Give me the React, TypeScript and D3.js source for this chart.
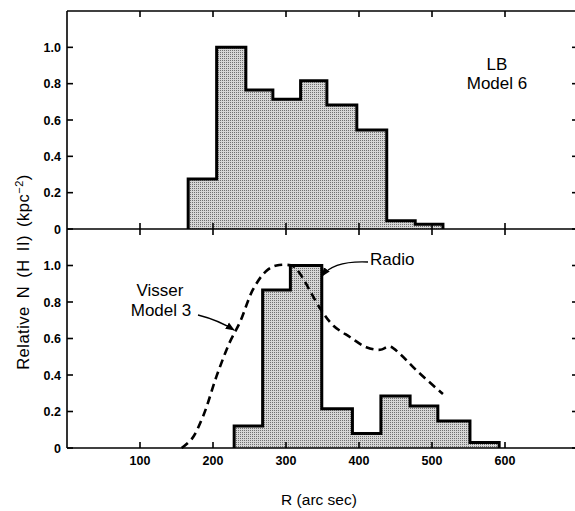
import React from "react";
import * as d3 from "d3";

// Top panel: LB Model 6 histogram
const lbEdges = [166, 205, 245, 282, 320, 356, 397, 438, 477, 515];
const lbValues = [0.275, 1.0, 0.765, 0.714, 0.816, 0.682, 0.545, 0.046, 0.026];

// Bottom panel: Radio histogram
const radioEdges = [229, 268, 306, 349, 391, 430, 470, 508, 552, 592];
const radioValues = [0.12, 0.866, 1.0, 0.215, 0.08, 0.285, 0.23, 0.148, 0.03];

// Bottom panel: Visser Model 3 dashed curve
const visserR = [157, 171, 187, 205, 223, 237, 255, 273, 287, 310, 319, 347, 365, 388, 410, 429, 442, 456, 479, 515];
const visserN = [0, 0.05, 0.18, 0.395, 0.58, 0.69, 0.87, 0.97, 1.0, 0.996, 0.956, 0.763, 0.67, 0.607, 0.552, 0.538, 0.556, 0.516, 0.424, 0.296];

const xTicks = [100, 200, 300, 400, 500, 600];
const xTickLabels = ["100", "200", "300", "400", "500", "600"];
const yTicks = [0.2, 0.4, 0.6, 0.8, 1.0];
const yTickLabels = ["0.2", "0.4", "0.6", "0.8", "1.0"];

const W = 575;
const H = 511;
const FONT = "'Liberation Sans', Arial, Helvetica, sans-serif";

export default function App() {
  const x = d3.scaleLinear().domain([0, 700]).range([67, 578]);
  const yTop = d3.scaleLinear().domain([0, 1.2]).range([229, 11]);
  const yBot = d3.scaleLinear().domain([0, 1.2]).range([448, 229]);

  const histPath = (edges: number[], vals: number[], y: d3.ScaleLinear<number, number>) => {
    const pts: [number, number][] = [[x(edges[0]), y(0)]];
    vals.forEach((v, i) => {
      pts.push([x(edges[i]), y(v)]);
      pts.push([x(edges[i + 1]), y(v)]);
    });
    pts.push([x(edges[edges.length - 1]), y(0)]);
    return d3.line()(pts) as string;
  };

  const visserLine = d3
    .line<number>()
    .x((_, i) => x(visserR[i]))
    .y((d) => yBot(d))
    .curve(d3.curveCatmullRom.alpha(0.5));

  const x0 = x(0);
  const x1 = x(700);
  const top = yTop(1.2);
  const mid = yTop(0);
  const bot = yBot(0);
  const allY = [0, ...yTicks];

  return (
    <svg width={W} height={H} style={{ position: "absolute", left: 0, top: 0, background: "#fff" }}>
      <defs>
        <pattern id="stip" width="2" height="2" patternUnits="userSpaceOnUse">
          <rect width="2" height="2" fill="#d6d6d6" />
          <rect width="1" height="1" fill="#707070" />
        </pattern>
        <marker id="arr" viewBox="0 0 10 10" refX="9" refY="5" markerWidth="7" markerHeight="7" orient="auto">
          <path d="M0,1 L10,5 L0,9 Z" fill="#000" />
        </marker>
      </defs>

      {/* histograms */}
      <path d={histPath(lbEdges, lbValues, yTop)} fill="url(#stip)" stroke="#000" strokeWidth={3} strokeLinejoin="miter" />
      <path d={histPath(radioEdges, radioValues, yBot)} fill="url(#stip)" stroke="#000" strokeWidth={3} strokeLinejoin="miter" />

      {/* frame */}
      <g stroke="#000" strokeWidth={1.6} fill="none">
        <line x1={x0} y1={top} x2={x1} y2={top} />
        <line x1={x0} y1={mid} x2={x1} y2={mid} />
        <line x1={x0} y1={bot} x2={x1} y2={bot} />
        <line x1={x0} y1={top} x2={x0} y2={bot} />
        <line x1={x1} y1={top} x2={x1} y2={bot} />
        {xTicks.map((t) => (
          <g key={"xt" + t}>
            <line x1={x(t)} y1={top} x2={x(t)} y2={top + 6} />
            <line x1={x(t)} y1={mid - 6} x2={x(t)} y2={mid + 6} />
            <line x1={x(t)} y1={bot} x2={x(t)} y2={bot - 6} />
          </g>
        ))}
        {allY.map((t) => (
          <g key={"yt" + t}>
            <line x1={x0} y1={yTop(t)} x2={x0 + 6} y2={yTop(t)} />
            <line x1={x0} y1={yBot(t)} x2={x0 + 6} y2={yBot(t)} />
            <line x1={x1} y1={yTop(t)} x2={x1 - 6} y2={yTop(t)} />
            <line x1={x1} y1={yBot(t)} x2={x1 - 6} y2={yBot(t)} />
          </g>
        ))}
      </g>

      {/* Visser dashed curve */}
      <path d={visserLine(visserN) as string} fill="none" stroke="#000" strokeWidth={2.6} strokeDasharray="8 5" />

      {/* tick labels */}
      <g fontFamily={FONT} fontSize={12.5} fontWeight="bold" fill="#000">
        {yTicks.map((t, i) => (
          <g key={"yl" + t}>
            <text x={61} y={yTop(t)} dy="0.36em" textAnchor="end">{yTickLabels[i]}</text>
            <text x={61} y={yBot(t)} dy="0.36em" textAnchor="end">{yTickLabels[i]}</text>
          </g>
        ))}
        <text x={61} y={mid} dy="0.36em" textAnchor="end">0</text>
        <text x={61} y={bot} dy="0.36em" textAnchor="end">0</text>
        {xTicks.map((t, i) => (
          <text key={"xl" + t} x={x(t)} y={465} textAnchor="middle">{xTickLabels[i]}</text>
        ))}
      </g>

      {/* axis titles */}
      <g fontFamily={FONT} fontSize={15.5} fill="#000">
        <text x={319} y={505} textAnchor="middle">R (arc sec)</text>
        <text transform="translate(29,272) rotate(-90)" textAnchor="middle" fontSize={16.5} wordSpacing="3" letterSpacing="0.5">
          Relative N (H II) (kpc
          <tspan dy="-6" fontSize={11}>−2</tspan>
          <tspan dy="6">)</tspan>
        </text>
      </g>

      {/* annotations */}
      <g fontFamily={FONT} fontSize={17} fill="#000">
        <text x={497} y={70} textAnchor="middle">LB</text>
        <text x={497} y={89} textAnchor="middle">Model 6</text>
        <text x={160} y={296} textAnchor="middle">Visser</text>
        <text x={161} y={316} textAnchor="middle">Model 3</text>
        <text x={370} y={265}>Radio</text>
      </g>
      <g fill="none" stroke="#000" strokeWidth={1.3}>
        <path d="M198,315 Q218,320 234,330" markerEnd="url(#arr)" />
        <path d="M368,262 C345,261 330,265 322,276" markerEnd="url(#arr)" />
      </g>
    </svg>
  );
}
